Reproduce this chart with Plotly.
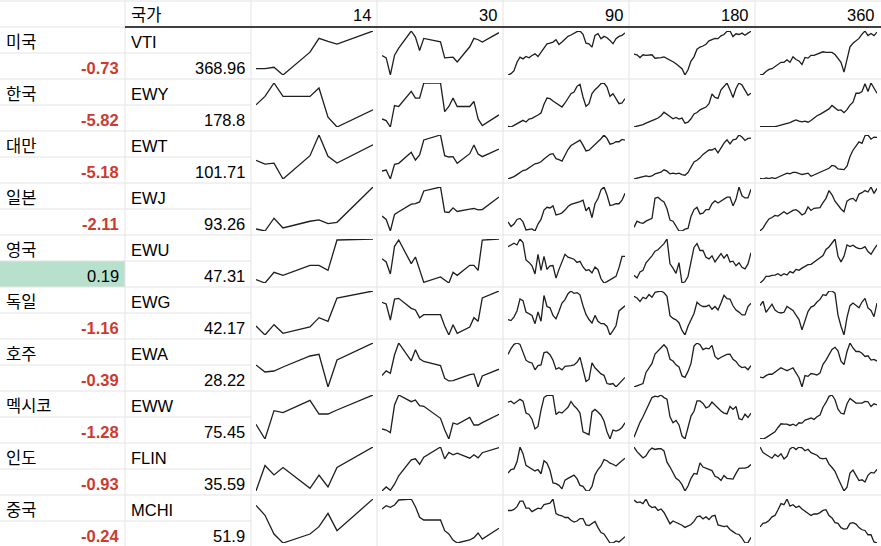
import plotly.graph_objects as go

W, H = 881, 546

countries = ["미국", "한국", "대만", "일본", "영국", "독일", "호주", "멕시코", "인도", "중국"]
tickers = ["VTI", "EWY", "EWT", "EWJ", "EWU", "EWG", "EWA", "EWW", "FLIN", "MCHI"]
changes = [-0.73, -5.82, -5.18, -2.11, 0.19, -1.16, -0.39, -1.28, -0.93, -0.24]
prices = [368.96, 178.8, 101.71, 93.26, 47.31, 42.17, 28.22, 75.45, 35.59, 51.9]
periods = [14, 30, 90, 180, 360]

# trading days (calendar day offsets) inside the 30 / 14 day windows
days_30 = [0, 1, 2, 3, 4, 7, 8, 9, 10, 14, 15, 16, 17, 18, 21, 22, 23, 24, 28]
days_14 = [d - 15 for d in days_30[-9:]]

# relative closing levels (one list per ETF)
close_14 = [
    [19, 19, 23, 0, 68, 109, 100, 92, 131],
    [66, 91, 131, 91, 91, 116, 29, 0, 51],
    [55, 44, 47, 0, 69, 130, 67, 47, 101],
    [6, 0, 38, 9, 29, 33, 22, 26, 131],
    [10, 0, 32, 23, 53, 53, 38, 129, 132],
    [27, 0, 31, 5, 24, 52, 41, 111, 132],
    [66, 45, 48, 60, 93, 98, 0, 81, 132],
    [44, 0, 85, 79, 116, 75, 75, 87, 132],
    [0, 76, 48, 70, 8, 47, 12, 70, 131],
    [113, 83, 27, 0, 27, 49, 89, 37, 132],
]

close_30 = [
    [58, 51, 0, 59, 80, 131, 113, 73, 109, 99, 51, 51, 53, 39, 84, 109, 105, 98, 126],
    [24, 19, 0, 64, 61, 106, 86, 86, 131, 131, 46, 61, 86, 61, 61, 76, 24, 4, 36],
    [24, 27, 0, 44, 47, 80, 57, 72, 117, 132, 70, 66, 67, 47, 76, 102, 75, 67, 90],
    [45, 35, 0, 50, 58, 81, 83, 88, 121, 133, 58, 56, 70, 59, 66, 68, 64, 65, 103],
    [73, 63, 27, 110, 129, 58, 78, 40, 2, 18, 10, 0, 32, 23, 53, 53, 38, 129, 132],
    [98, 93, 45, 108, 110, 80, 75, 52, 61, 61, 27, 0, 31, 5, 24, 52, 41, 111, 132],
    [34, 48, 41, 96, 131, 78, 111, 84, 76, 64, 26, 18, 19, 24, 37, 39, 0, 33, 53],
    [30, 27, 19, 102, 132, 112, 117, 100, 98, 62, 28, 0, 48, 44, 65, 42, 42, 49, 74],
    [0, 12, 2, 20, 45, 92, 95, 79, 100, 130, 95, 114, 107, 112, 97, 107, 98, 113, 128],
    [102, 112, 107, 114, 129, 132, 109, 77, 69, 69, 37, 27, 9, 0, 9, 16, 30, 12, 44],
]

close_90 = [
    [1, 5, 14, 39, 54, 49, 56, 52, 59, 64, 56, 69, 84, 94, 96, 99, 106, 92, 99, 109,
     116, 120, 126, 130, 132, 122, 96, 94, 84, 119, 124, 109, 116, 112, 104, 94, 109, 116, 119, 126],
    [2, 0, 5, 10, 16, 20, 15, 24, 26, 30, 36, 42, 68, 87, 85, 78, 72, 65, 60, 72,
     85, 100, 105, 122, 128, 90, 62, 70, 100, 112, 120, 130, 132, 120, 92, 100, 85, 70, 72, 85],
    [1, 4, 8, 14, 20, 26, 28, 34, 41, 46, 48, 52, 60, 68, 74, 76, 61, 58, 54, 71,
     88, 100, 106, 110, 116, 101, 84, 86, 94, 104, 110, 120, 131, 121, 104, 106, 111, 111, 118, 116],
    [30, 17, 24, 37, 40, 30, 7, 8, 10, 4, 24, 37, 64, 72, 70, 76, 50, 52, 56, 64,
     74, 80, 82, 86, 88, 92, 62, 72, 42, 82, 97, 122, 130, 107, 77, 79, 82, 82, 92, 112],
    [108, 113, 118, 113, 130, 120, 70, 63, 53, 30, 86, 40, 80, 43, 53, 54, 18, 43, 63, 86,
     78, 76, 72, 63, 66, 50, 40, 42, 33, 50, 42, 16, 4, 8, 13, 20, 23, 48, 80, 80],
    [47, 44, 55, 72, 107, 102, 69, 65, 59, 35, 69, 42, 117, 85, 81, 59, 49, 71, 95, 105,
     122, 130, 123, 125, 119, 87, 62, 47, 37, 59, 42, 35, 35, 27, 2, 15, 29, 72, 81, 87],
    [98, 115, 127, 131, 127, 103, 81, 75, 73, 53, 65, 67, 103, 105, 97, 81, 55, 59, 53, 63,
     63, 65, 67, 75, 89, 58, 19, 25, 73, 59, 51, 41, 37, 13, 11, 13, 3, 13, 23, 31],
    [111, 114, 107, 114, 119, 114, 81, 77, 64, 37, 44, 89, 124, 130, 131, 129, 77, 84, 81, 89,
     97, 113, 101, 93, 81, 29, 24, 21, 84, 91, 84, 75, 59, 29, 9, 34, 31, 34, 41, 54],
    [55, 65, 67, 87, 129, 110, 77, 71, 67, 61, 65, 53, 90, 83, 63, 27, 25, 20, 10, 35,
     40, 45, 49, 39, 20, 17, 5, 4, 17, 50, 65, 75, 93, 90, 83, 80, 75, 83, 89, 97],
    [96, 96, 99, 107, 123, 123, 103, 103, 93, 99, 103, 101, 113, 115, 117, 129, 87, 83, 81, 76,
     76, 68, 63, 66, 73, 73, 55, 53, 59, 65, 47, 33, 29, 15, 3, 3, 9, 6, 13, 21],
]

close_180 = [
    [64, 62, 54, 62, 60, 62, 62, 52, 52, 54, 56, 52, 48, 42, 36, 30, 22, 4, 19, 44,
     56, 78, 84, 87, 92, 102, 106, 109, 108, 116, 120, 129, 130, 114, 122, 120, 124, 118, 124, 129],
    [2, 4, 6, 9, 13, 16, 19, 24, 28, 35, 45, 38, 32, 26, 30, 25, 28, 13, 16, 26,
     40, 44, 52, 55, 60, 70, 98, 88, 85, 110, 120, 130, 110, 88, 114, 130, 124, 110, 94, 100],
    [1, 3, 4, 6, 10, 8, 10, 16, 18, 21, 28, 24, 16, 18, 16, 18, 14, 12, 20, 36,
     51, 56, 63, 73, 80, 86, 86, 91, 78, 94, 106, 116, 104, 116, 118, 130, 124, 114, 120, 121],
    [17, 34, 30, 28, 34, 37, 42, 97, 100, 92, 87, 68, 37, 34, 20, 7, 7, 12, 14, 47,
     66, 72, 54, 56, 66, 66, 82, 90, 84, 90, 94, 100, 100, 76, 94, 128, 104, 98, 98, 122],
    [33, 26, 42, 46, 66, 74, 84, 96, 100, 108, 116, 128, 63, 52, 38, 66, 13, 16, 30, 68,
     106, 116, 98, 98, 80, 76, 84, 68, 78, 90, 78, 88, 68, 70, 58, 66, 54, 50, 63, 92],
    [112, 107, 97, 109, 105, 117, 109, 123, 125, 127, 122, 112, 57, 49, 45, 37, 15, 2, 27, 47,
     63, 95, 87, 83, 83, 87, 75, 83, 73, 93, 115, 105, 104, 85, 73, 67, 59, 59, 83, 92],
    [3, 7, 11, 13, 45, 58, 71, 98, 107, 113, 125, 115, 83, 78, 67, 61, 35, 31, 48, 71,
     121, 130, 125, 111, 115, 113, 123, 91, 83, 89, 93, 97, 98, 83, 77, 65, 59, 61, 53, 65],
    [14, 37, 54, 69, 87, 104, 121, 125, 123, 128, 121, 117, 69, 53, 59, 47, 17, 9, 39, 71,
     84, 112, 112, 105, 93, 97, 109, 101, 91, 85, 79, 77, 97, 89, 97, 64, 61, 76, 67, 79],
    [130, 117, 108, 99, 105, 119, 127, 123, 125, 125, 119, 87, 73, 59, 41, 35, 23, 5, 19, 41,
     55, 53, 85, 73, 69, 65, 63, 47, 43, 35, 49, 41, 40, 39, 55, 69, 70, 70, 73, 80],
    [126, 119, 121, 116, 129, 111, 105, 107, 97, 101, 91, 77, 59, 67, 63, 61, 55, 49, 53, 57,
     66, 79, 81, 73, 79, 71, 81, 83, 56, 53, 51, 53, 43, 37, 31, 29, 19, 5, 6, 21],
]

close_360 = [
    [4, 6, 14, 20, 22, 28, 34, 40, 40, 47, 40, 56, 48, 44, 34, 54, 52, 60, 60, 64,
     66, 70, 68, 68, 68, 62, 52, 40, 12, 44, 84, 94, 102, 108, 120, 129, 116, 122, 116, 126],
    [2, 2, 1, 2, 2, 2, 4, 6, 8, 10, 14, 18, 22, 18, 16, 18, 15, 20, 27, 34,
     38, 44, 50, 54, 64, 56, 50, 51, 43, 52, 65, 74, 100, 100, 105, 128, 105, 130, 115, 100],
    [3, 1, 4, 2, 5, 2, 6, 10, 15, 18, 16, 20, 20, 16, 14, 16, 18, 9, 13, 16,
     20, 24, 29, 32, 40, 38, 30, 29, 28, 38, 66, 84, 96, 108, 104, 126, 128, 116, 122, 121],
    [2, 10, 24, 36, 40, 46, 44, 50, 56, 50, 56, 60, 62, 56, 47, 52, 70, 60, 66, 67,
     68, 82, 94, 116, 104, 86, 74, 64, 56, 86, 92, 94, 86, 106, 110, 116, 112, 126, 108, 122],
    [3, 10, 22, 22, 25, 26, 30, 24, 30, 26, 36, 32, 42, 40, 46, 52, 56, 57, 64, 70,
     76, 82, 100, 107, 118, 130, 80, 64, 80, 113, 108, 112, 106, 102, 103, 108, 94, 86, 100, 113],
    [85, 97, 67, 79, 89, 73, 67, 65, 67, 83, 77, 72, 59, 47, 19, 47, 69, 81, 85, 95,
     102, 115, 113, 125, 125, 119, 59, 29, 5, 53, 85, 92, 85, 79, 95, 105, 79, 72, 55, 92],
    [33, 31, 37, 41, 41, 47, 51, 59, 55, 51, 55, 59, 45, 31, 5, 37, 35, 43, 41, 39,
     44, 69, 81, 97, 111, 117, 107, 78, 68, 105, 129, 115, 105, 105, 100, 91, 93, 81, 83, 78],
    [4, 3, 7, 13, 19, 24, 37, 48, 47, 47, 43, 47, 42, 51, 50, 59, 62, 65, 61, 69,
     74, 97, 111, 129, 133, 119, 91, 79, 77, 107, 123, 117, 109, 109, 109, 114, 113, 99, 107, 104],
    [125, 110, 105, 99, 95, 105, 99, 107, 93, 100, 120, 125, 118, 125, 123, 115, 119, 110, 107, 103,
     95, 93, 95, 79, 70, 60, 41, 25, 7, 17, 55, 63, 47, 35, 37, 31, 49, 57, 55, 65],
    [51, 61, 63, 69, 79, 83, 99, 116, 113, 129, 109, 113, 105, 109, 101, 95, 89, 83, 87, 87,
     91, 97, 99, 83, 76, 63, 61, 49, 45, 46, 61, 63, 59, 49, 43, 41, 29, 29, 9, 6],
]

# sheet geometry (pixels)
col_edges = [0, 125, 251, 377, 503, 629, 755, 881]
header_top, header_bottom = 1, 27
row_h = 26
grid = "#e2e3e3"
red = "#cc3b2f"
font_family = "Arial, 'Liberation Sans', 'Noto Sans CJK KR', sans-serif"


def fx(x):
    return x / W


def fy(y):
    return 1 - y / H


fig = go.Figure()

columns = [(days_14, close_14), (days_30, close_30),
           (None, close_90), (None, close_180), (None, close_360)]
n = 0
for c, (xs, rows) in enumerate(columns):
    left, right = col_edges[c + 2], col_edges[c + 3]
    for r, ys in enumerate(rows):
        n += 1
        sfx = "" if n == 1 else str(n)
        xv = xs if xs is not None else list(range(len(ys)))
        top = header_bottom + 2 * row_h * r
        fig.add_trace(go.Scatter(
            x=xv, y=ys, mode="lines",
            line=dict(color="#1e1e1e", width=1.3),
            hoverinfo="skip", showlegend=False,
            xaxis="x" + sfx, yaxis="y" + sfx))
        fig.layout["xaxis" + sfx] = dict(
            domain=[fx(left + 5), fx(right - 4)], range=[min(xv), max(xv)],
            visible=False, fixedrange=True, anchor="y" + sfx)
        fig.layout["yaxis" + sfx] = dict(
            domain=[fy(top + 2 * row_h - 4), fy(top + 4)], range=[min(ys), max(ys)],
            visible=False, fixedrange=True, anchor="x" + sfx)

shapes = []


def hline(y, x0, x1, color=grid, width=1):
    shapes.append(dict(type="line", xref="paper", yref="paper",
                       x0=fx(x0), x1=fx(x1), y0=fy(y), y1=fy(y),
                       line=dict(color=color, width=width)))


def vline(x, y0, y1, color=grid, width=1):
    shapes.append(dict(type="line", xref="paper", yref="paper",
                       x0=fx(x), x1=fx(x), y0=fy(y0), y1=fy(y1),
                       line=dict(color=color, width=width)))


# green highlight for the only positive change
for r, ch in enumerate(changes):
    if ch > 0:
        y0 = header_bottom + 2 * row_h * r + row_h
        shapes.append(dict(type="rect", xref="paper", yref="paper", layer="below",
                           x0=fx(0), x1=fx(col_edges[1]), y0=fy(y0 + row_h), y1=fy(y0),
                           fillcolor="#b7e1cd", line=dict(width=0)))

hline(header_top, 0, W)
for r in range(len(countries)):
    top = header_bottom + 2 * row_h * r
    if r > 0:
        hline(top, 0, W)
    hline(top + row_h, 0, col_edges[2])
hline(header_bottom, 0, col_edges[1])
for x in col_edges[1:-1]:
    vline(x, 0, H)
hline(header_bottom, col_edges[1], W, color="#000000", width=1.5)

annotations = []


def label(text, x, y, anchor, color="#000000"):
    annotations.append(dict(text=text, x=fx(x), y=fy(y), xref="paper", yref="paper",
                            xanchor=anchor, yanchor="middle", showarrow=False,
                            font=dict(family=font_family, size=16.5, color=color)))


label("국가", col_edges[1] + 4, 15, "left")
for c, p in enumerate(periods):
    label(str(p), col_edges[c + 3] - 4, 15, "right")

for r in range(len(countries)):
    top = header_bottom + 2 * row_h * r
    label(countries[r], 4, top + 15, "left")
    label(tickers[r], col_edges[1] + 4, top + 15, "left")
    ch = changes[r]
    if ch < 0:
        label("<b>%s</b>" % ch, col_edges[1] - 4, top + row_h + 15, "right", red)
    else:
        label(str(ch), col_edges[1] - 4, top + row_h + 15, "right")
    label(str(prices[r]), col_edges[2] - 4, top + row_h + 15, "right")

fig.update_layout(
    width=W, height=H,
    margin=dict(l=0, r=0, t=0, b=0),
    paper_bgcolor="white", plot_bgcolor="white",
    shapes=shapes, annotations=annotations,
    showlegend=False,
)

# the page body has a default 8px margin; remove it so the sheet sits at the corner
fig.write_html("out.html", config={"displayModeBar": False},
               post_script="document.body.style.margin='0';document.body.style.overflow='hidden';")
